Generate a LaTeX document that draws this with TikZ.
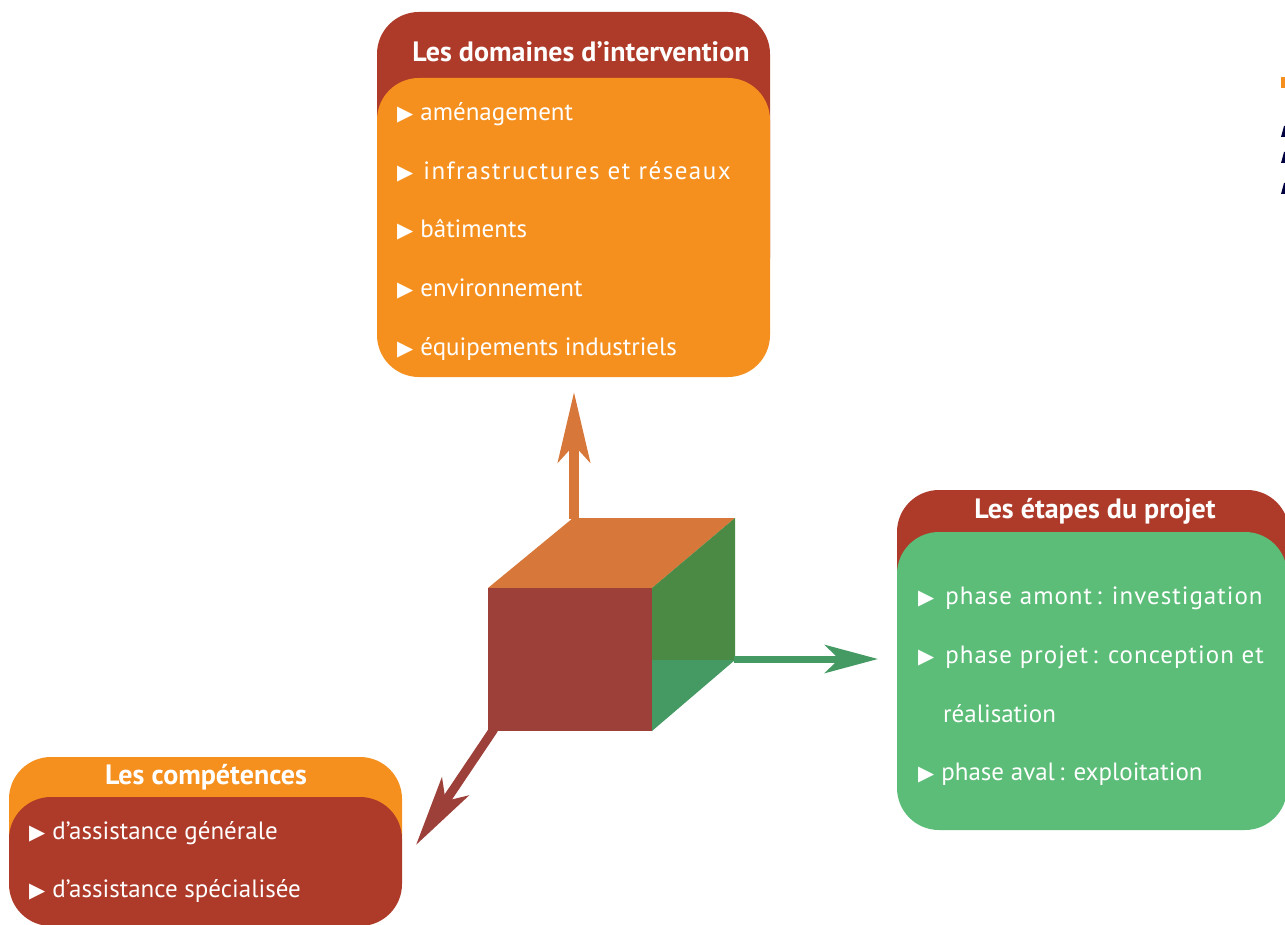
\documentclass[tikz,border=0pt]{standalone}
\usepackage{fontspec}
\setmainfont{PT Sans}
\newfontfamily\symfont{DejaVu Sans}
\usetikzlibrary{arrows.meta}
\definecolor{hdred}{HTML}{AE3B2A}
\definecolor{orng}{HTML}{F5901F}
\definecolor{grn}{HTML}{5BBD77}
\definecolor{cubered}{HTML}{9C4039}
\definecolor{cubetop}{HTML}{D8773A}
\definecolor{cubegrn}{HTML}{4A8A44}
\definecolor{cubegrn2}{HTML}{459A63}
\newcommand{\bul}{{\symfont\fontsize{21}{21}\selectfont ▶}\hspace{7pt}}
\newcommand{\wide}{\addfontfeature{LetterSpace=6}}
\newcommand{\wider}{\addfontfeature{LetterSpace=4}}
\tikzset{
  panel/.style={rounded corners=42pt},
  ttl/.style={font=\bfseries\fontsize{28}{32}\selectfont, text=white, inner sep=0pt},
  itm/.style={font=\fontsize{25}{29}\selectfont, text=white, anchor=base west, inner sep=0pt},
  axis/.style={line width=10pt, -{Stealth[length=70pt,width=32pt,inset=17pt]}},
}
\begin{document}
\begin{tikzpicture}[x=1pt,y=-1pt]
\useasboundingbox (0,0) rectangle (1285,925);
% ---- top panel
\fill[hdred, panel] (377,12) rectangle (770,300);
\fill[orng, panel] (377,78) rectangle (770,377);
\node[ttl] (domt) at (581,52) {Les domaines d’intervention};
\node[itm] (d1) at (397,121) {\bul aménagement};
\node[itm] (d2) at (397,180) {\bul\hspace{3pt}{\wide infrastructures et réseaux}};
\node[itm] (d3) at (397,238) {\bul bâtiments};
\node[itm] (d4) at (397,297) {\bul environnement};
\node[itm] (d5) at (397,355) {\bul équipements industriels};
% ---- right panel
\fill[hdred, panel] (897,490) rectangle (1289,700);
\fill[grn, panel] (897,532) rectangle (1287,830);
\node[ttl] (ett) at (1095,511) {Les étapes du projet};
\node[itm] (e1) at (918,604) {\bul\hspace{4pt}{\wider phase amont\,: investigation}};
\node[itm] (e2) at (918,663) {\bul\hspace{4pt}{\wider phase projet\,: conception et}};
\node[itm] (e2b) at (943,722) {réalisation};
\node[itm] (e3) at (918,780) {\bul phase aval\,: exploitation};
% ---- bottom-left panel
\fill[orng, panel] (9,757) rectangle (402,880);
\fill[hdred, panel] (9,797) rectangle (402,926);
\node[ttl] (cot) at (206,777) {Les compétences};
\node[itm] (c1) at (29,839) {\bul d’assistance générale};
\node[itm] (c2) at (29,897) {\bul d’assistance spécialisée};
% ---- cube
\fill[cubetop] (488,588) -- (573,518) -- (735,518) -- (652,588) -- cycle;
\fill[cubegrn] (652,588) -- (735,518) -- (735,660) -- (652,660) -- cycle;
\fill[cubegrn2] (652,660) -- (735,660) -- (652,731) -- cycle;
\fill[cubered] (488,588) rectangle (652,731);
\coordinate (cubeTop) at (574,519);
\coordinate (cubeRight) at (734,659);
\coordinate (cubeLow) at (494,729);
\coordinate (toDom) at (574,392);
\coordinate (toEt) at (878,659);
\coordinate (toCo) at (416,845);
\draw[axis, cubetop] (cubeTop) -- (toDom);
\draw[axis, cubegrn2, line width=7pt, -{Stealth[length=53pt,width=28pt,inset=14pt]}] (cubeRight) -- (toEt);
\draw[axis, cubered, line width=9pt] (cubeLow) -- (toCo);
% ---- cropped fragments at the right edge
\fill[orng] (1281,77) rectangle (1286,88);
\fill[black!75!blue] (1281,137) -- (1284,126) -- (1286,126) -- (1286,137) -- cycle;
\fill[black!75!blue] (1281,163) -- (1284,152) -- (1286,152) -- (1286,163) -- cycle;
\fill[black!75!blue] (1281,194) -- (1284,183) -- (1286,183) -- (1286,194) -- cycle;
\end{tikzpicture}
\end{document}
